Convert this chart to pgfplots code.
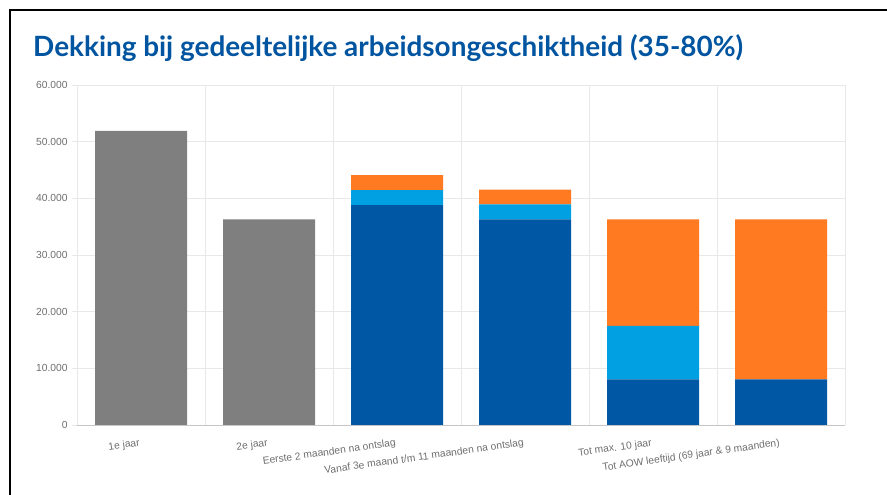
\documentclass[border=0pt]{standalone}
\usepackage{pgfplots}
\usepackage{pgfplotstable}
\pgfplotsset{compat=1.18}
\usepackage{fontspec}
\setmainfont{Liberation Sans}
\newfontfamily\titlefont{Lato}

\definecolor{titleblue}{RGB}{0,84,160}
\definecolor{darkblue}{RGB}{0,87,163}
\definecolor{lightblue}{RGB}{0,160,227}
\definecolor{orangebar}{RGB}{255,122,33}
\definecolor{greybar}{RGB}{127,127,127}
\definecolor{ticktext}{RGB}{110,110,110}
\definecolor{gridgrey}{RGB}{232,232,232}

% bedragen per periode, in euro
\pgfplotstableread{
x    grey   dark   light  orange
0.5  51900  0      0      0
1.5  36300  0      0      0
2.5  0      38800  2650   2650
3.5  0      36300  2650   2600
4.5  0      8070   9400   18830
5.5  0      8070   0      28230
}\datatable

\begin{document}
\begin{tikzpicture}[x=1bp,y=1bp]
\path[use as bounding box] (0,0) rectangle (887,495);
% kader
\draw[black, line width=2bp] (10,0) -- (10,485) -- (887,485);
\node[anchor=base west, inner sep=0pt, text=titleblue,
      font=\titlefont\bfseries\fontsize{28}{32}\selectfont] at (33,438)
  {Dekking bij gedeeltelijke arbeidsongeschiktheid (35-80\%)};

\begin{axis}[
  at={(77bp,70bp)}, anchor=south west,
  scale only axis, width=768bp, height=340bp,
  ybar stacked, bar width=92bp,
  xmin=0, xmax=6, ymin=0, ymax=60000,
  ytick={0,10000,...,60000},
  ymajorgrids, grid style={gridgrey, line width=0.8pt},
  axis x line*=bottom, axis y line*=left,
  x axis line style={gray!45, line width=0.8pt, -},
  y axis line style={draw=none},
  xtick={0.5,1.5,...,5.5},
  xticklabels={1e jaar, 2e jaar, Eerste 2 maanden na ontslag,
    Vanaf 3e maand t/m 11 maanden na ontslag, Tot max. 10 jaar,
    Tot AOW leeftijd (69 jaar \& 9 maanden)},
  x tick style={draw=none},
  xticklabel style={rotate=8, anchor=north east, inner sep=0pt,
    font=\fontsize{10.3}{11}\selectfont,
    text=ticktext, yshift=-8bp, xshift=-3bp},
  extra x ticks={0,1,...,6},
  extra x tick labels={},
  extra x tick style={grid=major, major tick length=8bp, tick align=outside,
    tick style={draw=gridgrey, line width=0.8pt}},
  y tick style={draw=gridgrey, line width=0.8pt},
  major tick length=5bp, tick align=outside,
  yticklabel style={font=\fontsize{10.3}{12}\selectfont, text=ticktext, xshift=-1bp},
  /pgf/number format/assume math mode=true,
  /pgf/number format/.cd, 1000 sep={.}, fixed,
  /pgfplots/.cd,
  scaled y ticks=false,
  every axis plot/.append style={draw=none},
]
\addplot[fill=greybar] table[x=x, y=grey] {\datatable};
\addplot[fill=darkblue] table[x=x, y=dark] {\datatable};
\addplot[fill=lightblue] table[x=x, y=light] {\datatable};
\addplot[fill=orangebar] table[x=x, y=orange] {\datatable};
\end{axis}
\end{tikzpicture}
\end{document}
